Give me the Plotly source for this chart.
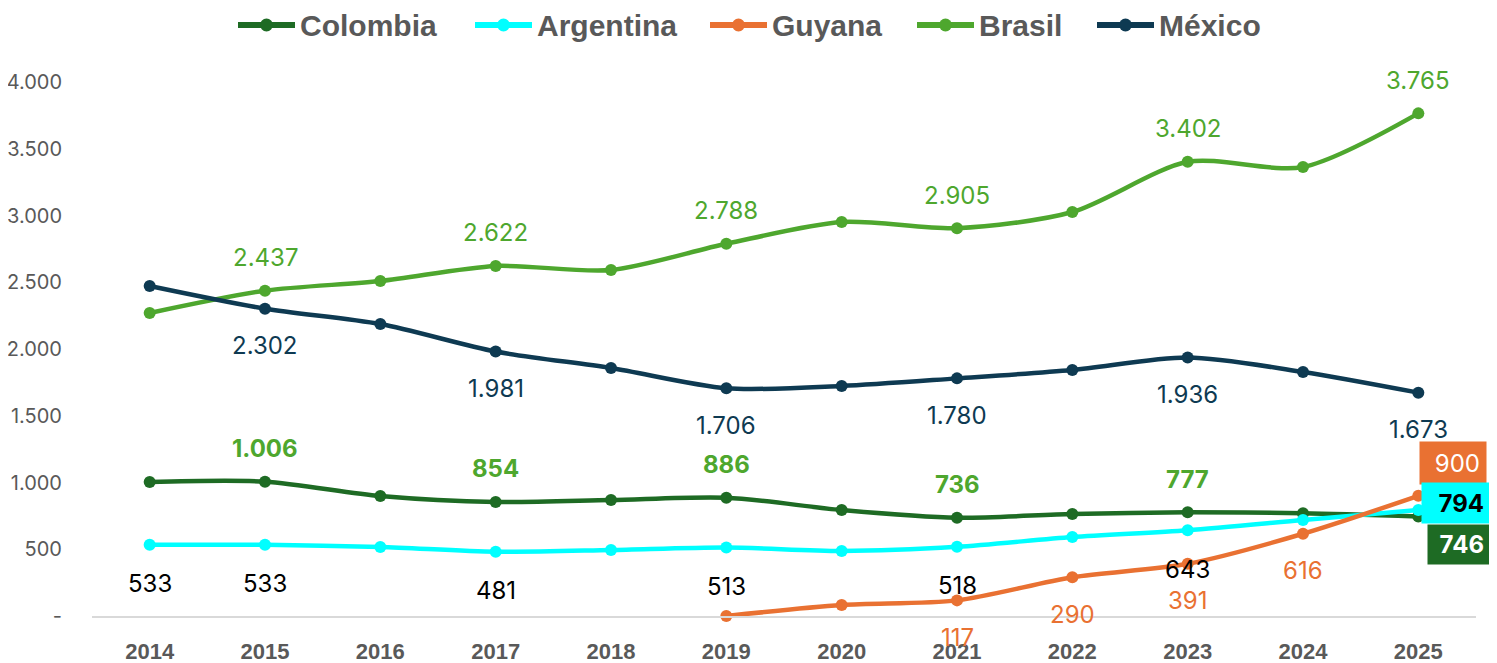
import plotly.graph_objects as go

years = [2014, 2015, 2016, 2017, 2018, 2019, 2020, 2021, 2022, 2023, 2024, 2025]
colombia = [1004, 1006, 899, 854, 869, 886, 794, 736, 764, 777, 770, 746]
argentina = [533, 533, 517, 481, 494, 513, 487, 518, 592, 643, 719, 794]
guyana_years = [2019, 2020, 2021, 2022, 2023, 2024, 2025]
guyana = [0, 82, 117, 290, 391, 616, 900]
brasil = [2270, 2437, 2509, 2622, 2592, 2788, 2951, 2905, 3026, 3402, 3363, 3765]
mexico = [2472, 2302, 2187, 1981, 1858, 1706, 1723, 1780, 1843, 1936, 1828, 1673]

ytick_vals = [0, 500, 1000, 1500, 2000, 2500, 3000, 3500, 4000]
ytick_text = ["-", "500", "1.000", "1.500", "2.000", "2.500", "3.000", "3.500", "4.000"]

# years whose values are labelled
brasil_lab = [2015, 2017, 2019, 2021, 2023, 2025]
mexico_lab = [2015, 2017, 2019, 2021, 2023, 2025]
colombia_lab = [2015, 2017, 2019, 2021, 2023]
argentina_lab = [2014, 2015, 2017, 2019, 2021, 2023]
guyana_lab = [2021, 2022, 2023, 2024]

C_COL = "#1E6B24"
C_ARG = "#00FFFF"
C_GUY = "#E97132"
C_BRA = "#4EA72E"
C_MEX = "#0E3A52"

series = [
    ("Colombia", years, colombia, C_COL),
    ("Argentina", years, argentina, C_ARG),
    ("Guyana", guyana_years, guyana, C_GUY),
    ("Brasil", years, brasil, C_BRA),
    ("México", years, mexico, C_MEX),
]

def fmt(v):
    return f"{v:,}".replace(",", ".")

fig = go.Figure()
for name, xs, ys, col in series:
    fig.add_trace(go.Scatter(
        x=xs, y=ys, name=name, mode="lines+markers",
        line=dict(color=col, width=4.5, shape="spline", smoothing=0.8),
        marker=dict(color=col, size=12),
        cliponaxis=False, showlegend=False,
    ))

# page has an 8px body margin; figure geometry in figure pixels
OFF = 8
W, H = 1497 - OFF, 663 - OFF
ML, MT = 92 - OFF, 82 - OFF
MR = W - (1476 - OFF)
MB = H - (616 - OFF)
PW, PH = W - ML - MR, H - MT - MB

def px2x(px):  # screenshot px -> paper x
    return (px - OFF - ML) / PW

def py2y(py):  # screenshot px -> paper y
    return (H - MB - (py - OFF)) / PH

LABEL_FONT = "Inter, Liberation Sans, Arial"
anns = []
shapes = []

def add_labels(xs, ys, which, color, dy, bold=False):
    for x, y in zip(xs, ys):
        if x in which:
            t = fmt(y)
            if bold:
                t = "<b>" + t + "</b>"
            anns.append(dict(x=x, y=y, xref="x", yref="y", text=t, showarrow=False,
                             yshift=dy, font=dict(family=LABEL_FONT, size=24, color=color)))

add_labels(years, brasil, brasil_lab, C_BRA, 33)
add_labels(years, mexico, mexico_lab, C_MEX, -37)
add_labels(years, colombia, colombia_lab, C_BRA, 33, bold=True)
add_labels(years, argentina, argentina_lab, "#000000", -39)
add_labels(guyana_years, guyana, guyana_lab, C_GUY, -37)

# boxed end labels
end_boxes = [
    (guyana[-1], 35, 33, 54, 30, C_GUY, "#FFFFFF", False),
    (argentina[-1], 38, 7, 56, 28, C_ARG, "#000000", True),
    (colombia[-1], 41, -28, 50, 27, C_COL, "#FFFFFF", True),
]
for val, dx, dy, bw, bh, bg, fc, b in end_boxes:
    t = fmt(val)
    if b:
        t = "<b>" + t + "</b>"
    anns.append(dict(x=2025, y=val, xref="x", yref="y", text=t, showarrow=False,
                     xshift=dx, yshift=dy, bgcolor=bg, borderpad=6, width=bw, height=bh,
                     align="right", valign="middle",
                     font=dict(family=LABEL_FONT, size=24, color=fc)))

# custom legend (line + marker + label)
legend_x = [238, 475, 710, 917, 1097]
LEG_Y = 25
for (name, xs, ys, col), lx in zip(series, legend_x):
    shapes.append(dict(type="line", xref="paper", yref="paper",
                       x0=px2x(lx), x1=px2x(lx + 57), y0=py2y(LEG_Y), y1=py2y(LEG_Y),
                       line=dict(color=col, width=6)))
    shapes.append(dict(type="circle", xref="paper", yref="paper",
                       xsizemode="pixel", ysizemode="pixel",
                       xanchor=px2x(lx + 28.5), yanchor=py2y(LEG_Y),
                       x0=-6.5, x1=6.5, y0=-6.5, y1=6.5,
                       fillcolor=col, line=dict(color=col, width=0)))
    anns.append(dict(x=px2x(lx + 60), y=py2y(LEG_Y), xref="paper", yref="paper",
                     xanchor="left", yanchor="middle", showarrow=False,
                     text="<b>" + name + "</b>",
                     font=dict(family="Liberation Sans, Arial", size=30, color="#595959")))

fig.update_layout(
    width=W, height=H,
    paper_bgcolor="white", plot_bgcolor="white",
    margin=dict(l=ML, r=MR, t=MT, b=MB, autoexpand=False),
    showlegend=False,
    annotations=anns,
    shapes=shapes,
    xaxis=dict(range=[2013.5, 2025.5], tickvals=years, ticktext=[f"<b>{y}</b>" for y in years],
               showgrid=False, zeroline=False, showline=True, linecolor="#D9D9D9", linewidth=2,
               ticks="outside", ticklen=15, tickcolor="rgba(0,0,0,0)", automargin=False,
               tickfont=dict(family="Liberation Sans, Arial", size=22, color="#595959")),
    yaxis=dict(range=[0, 4000], tickvals=ytick_vals, ticktext=ytick_text,
               showgrid=False, zeroline=False, showline=False,
               ticks="outside", ticklen=25, tickcolor="rgba(0,0,0,0)", automargin=False,
               tickfont=dict(family="Inter, Liberation Sans, Arial", size=20, color="#595959")),
)

fig.write_html("out.html")
